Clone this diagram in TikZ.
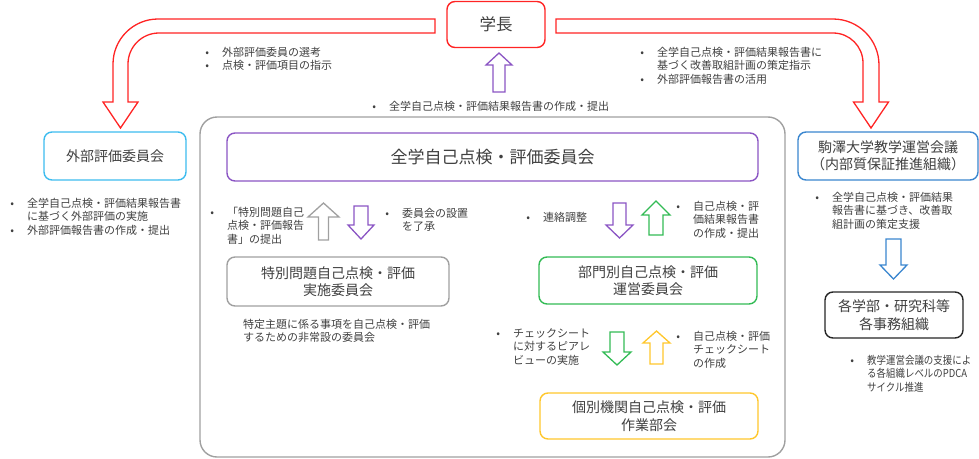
\documentclass[tikz,border=0pt]{standalone}
\usepackage{fontspec}
\newfontfamily\jp{Noto Sans CJK JP}
\newfontfamily\jpn[FakeStretch=0.86]{Noto Sans CJK JP}
\definecolor{txtgray}{HTML}{404040}
\definecolor{cred}{HTML}{FF2424}
\definecolor{cpurple}{HTML}{8B55C4}
\definecolor{cgreen}{HTML}{33BB55}
\definecolor{cyellow}{HTML}{FFC72C}
\definecolor{ccyan}{HTML}{3DBCEF}
\definecolor{cblue}{HTML}{3A86CF}
\definecolor{cgray}{HTML}{A0A0A0}
\definecolor{cblack}{HTML}{262626}
\newcommand\bu{\llap{\makebox[15pt][l]{\makebox[0pt]{\jp\fontsize{11}{11}\selectfont •}}}}
\newcommand\blist[1]{\begin{tabular}[t]{@{}l@{}}#1\end{tabular}}
% block arrow: style, cx, tip y, head base y, shaft half, head half, tail y
\newcommand\blockarrow[7]{\draw[#1] (#2,#3) -- (#2+#6,#4) -- (#2+#5,#4) -- (#2+#5,#7) -- (#2-#5,#7) -- (#2-#5,#4) -- (#2-#6,#4) -- cycle;}
\tikzset{
  box/.style={draw, rounded corners=8pt, line width=1.4pt, fill=white, align=center,
    font=\jp\fontsize{14}{17.5}\selectfont, text=txtgray, inner sep=0pt},
  txt/.style={font=\jp\fontsize{11}{13.5}\selectfont, text=txtgray, inner sep=0pt, anchor=base west},
  barrow/.style={line width=1.3pt, fill=white, line join=miter},
  redarrow/.style={draw=cred, line width=1.3pt, fill=white, line join=miter}
}
\begin{document}
\begin{tikzpicture}[x=1pt,y=-1pt]
\useasboundingbox (0,0) rectangle (979,458);
% big frame
\draw[cgray, line width=1.4pt, rounded corners=17pt] (200,117) rectangle (785,457);

% red curved arrows
\draw[redarrow] (435,19) -- (158,19) .. controls (133.2,19) and (113,39.2) .. (113,64) -- (113,102) -- (103,102) -- (120.5,128) -- (138,102) -- (128,102) -- (128,64) .. controls (128,46.9) and (141.9,33) .. (159,33) -- (435,33) -- cycle;
\draw[redarrow] (556,19) -- (833,19) .. controls (858.4,19) and (879,39.6) .. (879,65) -- (879,102) -- (888.5,102) -- (871,128) -- (853.5,102) -- (863,102) -- (863,63) .. controls (863,46.4) and (849.6,33) .. (833,33) -- (556,33) -- cycle;

% boxes
\node[box, draw=cred, minimum width=98pt, minimum height=46pt, font=\jp\fontsize{16.5}{20}\selectfont] (gakucho) at (496,24.5) {学長};
\node[box, draw=ccyan, minimum width=142pt, minimum height=48pt] (gaibu) at (115,156) {外部評価委員会};
\node[box, draw=cpurple, minimum width=531pt, minimum height=48pt, font=\jp\fontsize{17}{20}\selectfont] (zengaku) at (492.5,157) {全学自己点検・評価委員会};
\node[box, draw=cblue, minimum width=180pt, minimum height=48pt] (komazawa) at (888,156) {駒澤大学教学運営会議\\（内部質保証推進組織）};
\node[box, draw=cgray, minimum width=222pt, minimum height=49pt] (tokubetsu) at (338,281.5) {特別問題自己点検・評価\\実施委員会};
\node[box, draw=cgreen, minimum width=218pt, minimum height=47pt] (bumon) at (648,280.5) {部門別自己点検・評価\\運営委員会};
\node[box, draw=cyellow, minimum width=218pt, minimum height=46pt] (kobetsu) at (649,416) {個別機関自己点検・評価\\作業部会};
\node[box, draw=cblack, minimum width=138pt, minimum height=46pt] (kakugakubu) at (894,315) {各学部・研究科等\\各事務組織};

% block arrows
\blockarrow{barrow, draw=cpurple}{499}{53}{65}{6}{13}{92}
\blockarrow{barrow, draw=cgray}{323.5}{203}{217}{5}{15.5}{240}
\blockarrow{barrow, draw=cpurple}{361}{239}{225}{7}{13}{206}
\blockarrow{barrow, draw=cpurple}{619.5}{238}{225}{6.5}{13.5}{203}
\blockarrow{barrow, draw=cgreen}{656}{201}{215}{7}{14}{235}
\blockarrow{barrow, draw=cgreen}{617}{365}{352}{7}{14}{332}
\blockarrow{barrow, draw=cyellow}{656.5}{331}{343}{6.5}{13.5}{364}
\blockarrow{barrow, draw=cblue}{893.5}{279}{265}{7.5}{13.5}{239}

% texts
\node[txt] (tA) at (222,56) {\blist{\bu 外部評価委員の選考\\\bu 点検・評価項目の指示}};
\node[txt] (tB) at (657,56) {\blist{\bu 全学自己点検・評価結果報告書に\\基づく改善取組計画の策定指示\\\bu 外部評価報告書の活用}};
\node[txt] (tC) at (389,110) {\blist{\bu 全学自己点検・評価結果報告書の作成・提出}};
\node[txt] (tD) at (27,207) {\blist{\bu 全学自己点検・評価結果報告書\\に基づく外部評価の実施\\\bu 外部評価報告書の作成・提出}};
\node[txt] (tE) at (227,216) {\blist{\bu 「特別問題自己\\点検・評価報告\\書」の提出}};
\node[txt] (tF) at (402,217) {\blist{\bu 委員会の設置\\を了承}};
\node[txt] (tG) at (243,328) {\blist{特定主題に係る事項を自己点検・評価\\するための非常設の委員会}};
\node[txt] (tH) at (543,221) {\blist{\bu 連絡調整}};
\node[txt] (tI) at (693,210) {\blist{\bu 自己点検・評\\価結果報告書\\の作成・提出}};
\node[txt] (tJ) at (513,337) {\blist{\bu チェックシート\\に対するピアレ\\ビューの実施}};
\node[txt] (tK) at (693,340) {\blist{\bu 自己点検・評価\\チェックシート\\の作成}};
\node[txt] (tL) at (832,201) {\blist{\bu 全学自己点検・評価結果\\報告書に基づき、改善取\\組計画の策定支援}};
\node[txt, font=\jpn\fontsize{11}{13.5}\selectfont] (tM) at (867,364) {\blist{\bu 教学運営会議の支援によ\\る各組織レベルのPDCA\\サイクル推進}};
\end{tikzpicture}
\end{document}
